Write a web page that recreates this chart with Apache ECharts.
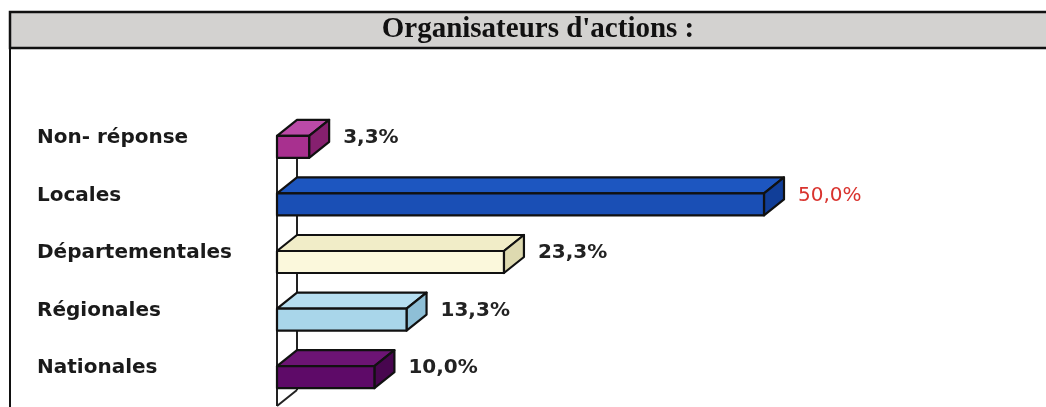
<!DOCTYPE html>
<html>
<head>
<meta charset="utf-8">
<script src="https://cdn.jsdelivr.net/npm/echarts@6/dist/echarts.min.js"></script>
<style>
  html, body { margin: 0; padding: 0; background: #fff; }
  #chart { width: 1046px; height: 407px; }
</style>
</head>
<body>
<div id="chart"></div>
<script>
// données
var categories = ['Non- réponse', 'Locales', 'Départementales', 'Régionales', 'Nationales'];
var values = [3.3, 50.0, 23.3, 13.3, 10.0];

// couleurs des faces : avant, dessus, côté
var faceColors = [
  ['#a8308f', '#bb4aa8', '#86206f'],
  ['#1a4fb5', '#1d56c0', '#113e98'],
  ['#fbf8dc', '#f1edc8', '#dedab0'],
  ['#a9d6ea', '#b6def0', '#8ebfd6'],
  ['#5e0a68', '#6c1474', '#48064f']
];
var labelColors = ['#222', '#d9332e', '#222', '#222', '#222'];
var labelWeights = ['bold', 'normal', 'bold', 'bold', 'bold'];

var DX = 20, DY = -16, H = 22;

var chart = echarts.init(document.getElementById('chart'));

function fmt(v) {
  return v.toFixed(1).replace('.', ',') + '%';
}

// barre en 3D : face avant, dessus, côté droit
function renderBar(params, api) {
  var idx = api.value(1);
  var p0 = api.coord([0, idx]);
  var p1 = api.coord([api.value(0), idx]);
  var x0 = p0[0], x1 = p1[0];
  var yTop = p0[1] - H / 2, yBot = p0[1] + H / 2;
  var c = faceColors[idx];
  var stroke = { stroke: '#111', lineWidth: 2.2, lineJoin: 'round' };
  return {
    type: 'group',
    children: [
      {
        type: 'polygon',
        shape: { points: [[x0, yTop], [x0 + DX, yTop + DY], [x1 + DX, yTop + DY], [x1, yTop]] },
        style: Object.assign({ fill: c[1] }, stroke)
      },
      {
        type: 'polygon',
        shape: { points: [[x1, yTop], [x1 + DX, yTop + DY], [x1 + DX, yBot + DY], [x1, yBot]] },
        style: Object.assign({ fill: c[2] }, stroke)
      },
      {
        type: 'rect',
        shape: { x: x0, y: yTop, width: x1 - x0, height: H },
        style: Object.assign({ fill: c[0] }, stroke)
      },
      {
        type: 'text',
        style: {
          text: fmt(api.value(0)),
          x: x1 + DX + 14,
          y: p0[1] - 9,
          fill: labelColors[idx],
          fontFamily: 'DejaVu Sans',
          fontSize: 20,
          fontWeight: labelWeights[idx],
          verticalAlign: 'middle'
        }
      }
    ]
  };
}

// parois : ligne avant, ligne arrière et sol
function renderWall(params, api) {
  var cs = params.coordSys;
  var x0 = cs.x, yT = cs.y, yB = cs.y + cs.height;
  var st = { stroke: '#222', lineWidth: 2 };
  return {
    type: 'group',
    children: [
      { type: 'line', shape: { x1: x0, y1: yT + 18, x2: x0, y2: yB }, style: st },
      { type: 'line', shape: { x1: x0 + DX, y1: yT + 2, x2: x0 + DX, y2: yB + DY }, style: st },
      { type: 'line', shape: { x1: x0, y1: yB, x2: x0 + DX, y2: yB + DY }, style: st }
    ]
  };
}

chart.setOption({
  animation: false,
  title: {
    text: "Organisateurs d'actions :",
    left: 533,
    top: 10,
    textAlign: 'center',
    textStyle: {
      fontFamily: 'Liberation Serif',
      fontWeight: 'bold',
      fontSize: 29,
      color: '#111'
    }
  },
  graphic: [
    {
      type: 'rect',
      z: -10,
      shape: { x: 10, y: 12, width: 1050, height: 36 },
      style: { fill: '#d3d2d0', stroke: '#111', lineWidth: 2.5 }
    },
    {
      type: 'line',
      z: -10,
      shape: { x1: 10, y1: 12, x2: 10, y2: 410 },
      style: { stroke: '#111', lineWidth: 2 }
    }
  ],
  grid: { left: 277, top: 118, width: 487, height: 288 },
  xAxis: {
    type: 'value',
    min: 0,
    max: 50,
    show: false
  },
  yAxis: {
    type: 'category',
    data: categories,
    inverse: true,
    axisLine: { show: false },
    axisTick: { show: false },
    splitLine: { show: false },
    axisLabel: {
      align: 'left',
      verticalAlign: 'bottom',
      lineHeight: 18,
      margin: 240,
      fontFamily: 'DejaVu Sans',
      fontSize: 20,
      fontWeight: 'bold',
      color: '#1a1a1a'
    }
  },
  series: [
    {
      type: 'custom',
      name: 'paroi',
      renderItem: renderWall,
      data: [[0, 0]],
      z: 1,
      silent: true
    },
    {
      type: 'custom',
      name: 'Organisateurs',
      renderItem: renderBar,
      data: values.map(function (v, i) { return [v, i]; }),
      encode: { x: 0, y: 1 },
      z: 2
    }
  ]
});
</script>
</body>
</html>
